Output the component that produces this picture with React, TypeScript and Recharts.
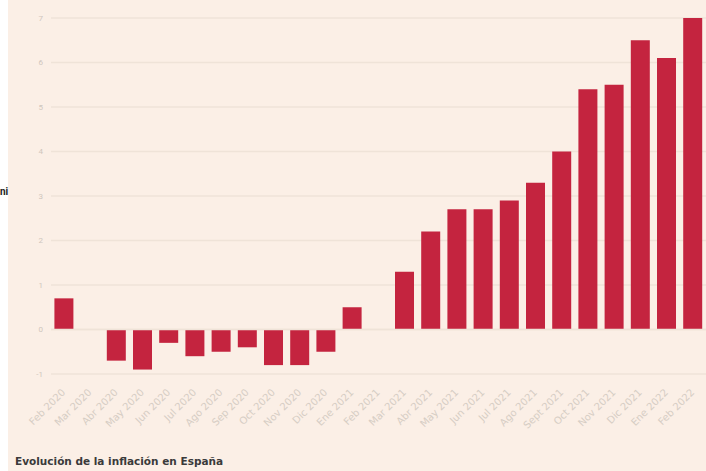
import React from 'react';
import { BarChart, Bar, XAxis, YAxis, CartesianGrid, ReferenceLine } from 'recharts';

const months = [
  'Feb 2020', 'Mar 2020', 'Abr 2020', 'May 2020', 'Jun 2020', 'Jul 2020', 'Ago 2020',
  'Sep 2020', 'Oct 2020', 'Nov 2020', 'Dic 2020', 'Ene 2021', 'Feb 2021', 'Mar 2021',
  'Abr 2021', 'May 2021', 'Jun 2021', 'Jul 2021', 'Ago 2021', 'Sept 2021', 'Oct 2021',
  'Nov 2021', 'Dic 2021', 'Ene 2022', 'Feb 2022'
];

const inflation = [
  0.7, 0, -0.7, -0.9, -0.3, -0.6, -0.5, -0.4, -0.8, -0.8, -0.5, 0.5, 0, 1.3,
  2.2, 2.7, 2.7, 2.9, 3.3, 4.0, 5.4, 5.5, 6.5, 6.1, 7.0
];

const yTicks = [-1, 0, 1, 2, 3, 4, 5, 6, 7];

const data = months.map((m, i) => ({ mes: m, valor: inflation[i] }));

const BG = '#fbefe6';
const BAR = '#c4243f';

const XTick = (props: any) => {
  const { x, y, payload } = props;
  return (
    <g transform={`translate(${x + 2},${y + 11})`}>
      <text
        textAnchor="end"
        transform="rotate(-45)"
        fontSize={10}
        fill="#d6cdc4"
        fontFamily="'DejaVu Sans', sans-serif"
      >
        {payload.value}
      </text>
    </g>
  );
};

export default function App() {
  return (
    <div style={{ position: 'absolute', left: 0, top: 0, width: 706, height: 471, background: '#fff', overflow: 'hidden' }}>
      <div style={{ position: 'absolute', left: 8, top: 0, width: 698, height: 471, background: BG }}>
        <BarChart
          width={698}
          height={436}
          data={data}
          margin={{ top: 18, right: 0, left: 8, bottom: 0 }}
          barCategoryGap="13%"
        >
          <CartesianGrid vertical={false} stroke="#efe3d8" strokeWidth={1.5} />
          <XAxis
            dataKey="mes"
            interval={0}
            axisLine={false}
            tickLine={false}
            height={62}
            tick={<XTick />}
          />
          <YAxis
            domain={[-1, 7]}
            ticks={yTicks}
            axisLine={false}
            tickLine={false}
            width={35}
            tick={{ fontSize: 8, fill: '#cfc6bd', fontFamily: 'Roboto, sans-serif' }}
          />
          <ReferenceLine y={0} stroke="#efe3d8" strokeWidth={1.5} />
          <Bar dataKey="valor" fill={BAR} isAnimationActive={false} />
        </BarChart>
        <div
          style={{
            position: 'absolute', left: 7, top: 455,
            fontFamily: "'DejaVu Sans', sans-serif", fontSize: 10.5, fontWeight: 700, color: '#3a3a3a',
            whiteSpace: 'nowrap', lineHeight: '13px'
          }}
        >
          Evolución de la inflación en España
        </div>
      </div>
      <div
        style={{
          position: 'absolute', left: 0, top: 186,
          fontFamily: 'Roboto, sans-serif', fontWeight: 700, fontSize: 10, color: '#222',
          whiteSpace: 'nowrap', lineHeight: '12px'
        }}
      >
        ni
      </div>
    </div>
  );
}
